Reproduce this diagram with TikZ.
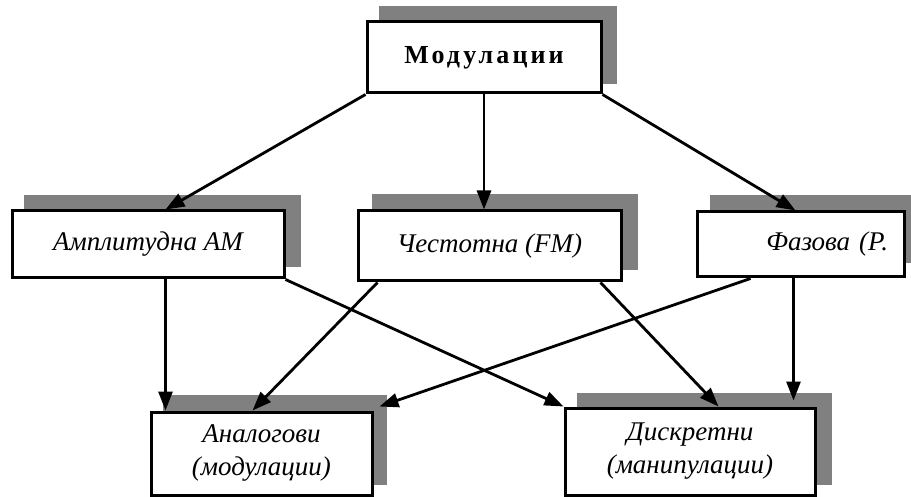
\documentclass[tikz,border=0pt]{standalone}
\usepackage{fontspec}
\setmainfont{Liberation Serif}
\newfontfamily\spacedbold[LetterSpace=12]{Liberation Serif}
\usetikzlibrary{arrows.meta,calc}
\definecolor{shadowgray}{RGB}{128,128,128}
\begin{document}
\begin{tikzpicture}[x=1pt,y=-1pt,
  box/.style={draw=black, line width=3pt, fill=white, inner sep=0pt,
    align=center, font=\fontsize{27}{33}\selectfont\itshape},
  shade/.style={fill=shadowgray},
  link/.style={line width=2.8pt, -{Triangle[length=19pt,width=14pt]}}]
\useasboundingbox (0,0) rectangle (911,497);

% drop shadows behind the boxes
\fill[shade] (379,6) rectangle (617,84);
\fill[shade] (24,195) rectangle (301,267);
\fill[shade] (372,194) rectangle (638,270);
\fill[shade] (710,195) rectangle (915,263);
\fill[shade] (163,395) rectangle (387,485);
\fill[shade] (577,393) rectangle (832,485);

% boxes
\node[box, minimum width=234pt, minimum height=71pt,
  font=\fontsize{26}{30}\selectfont\spacedbold\bfseries] (top) at (484,57.5) {Модулации};
\node[box, minimum width=272pt, minimum height=67pt] (amp) at (148,244.5) {Амплитудна АМ};
\node[box, minimum width=263pt, minimum height=70pt] (chest) at (489.5,246) {Честотна (FM)};
\node[box, minimum width=207pt, minimum height=65pt, text width=175pt,
  inner xsep=16pt, align=right] (faz) at (800.5,244.5) {Фазова (P.};
\node[box, minimum width=221pt, minimum height=83pt] (anal) at (261.5,453.5) {Аналогови\\(модулации)};
\node[box, minimum width=250pt, minimum height=87pt] (disk) at (690,451.5) {Дискретни\\(манипулации)};

% connector end points
\coordinate (ampIn) at ($(amp.north west)+(155,0)$);
\coordinate (fazIn) at ($(faz.north west)+(100,0)$);
\coordinate (ampOut) at ($(amp.south west)+(155,0)$);
\coordinate (chestOutL) at ($(chest.south west)+(21,0)$);
\coordinate (chestOutR) at ($(chest.south east)+(-22,0)$);
\coordinate (fazOutL) at ($(faz.south west)+(55,0)$);
\coordinate (fazOutR) at ($(faz.south west)+(98,0)$);
\coordinate (analInA) at ($(anal.north west)+(103,0)$);
\coordinate (analInF) at ($(anal.north east)+(6,-4)$);
\coordinate (diskInC) at ($(disk.north west)+(155,0)$);
\coordinate (diskInF) at ($(disk.north west)+(230,-6)$);

% connectors
\draw[link] (top.south west) -- (ampIn);
\draw[link] (top.south) -- (top.south |- chest.north);
\draw[link] (top.south east) -- (fazIn);
\draw[link] (ampOut) -- (ampOut |- anal.north);
\draw[link] (amp.south east) -- (disk.north west);
\draw[link] (chestOutL) -- (analInA);
\draw[link] (chestOutR) -- (diskInC);
\draw[link] (fazOutL) -- (analInF);
\draw[link] (fazOutR) -- (diskInF);
\end{tikzpicture}
\end{document}
